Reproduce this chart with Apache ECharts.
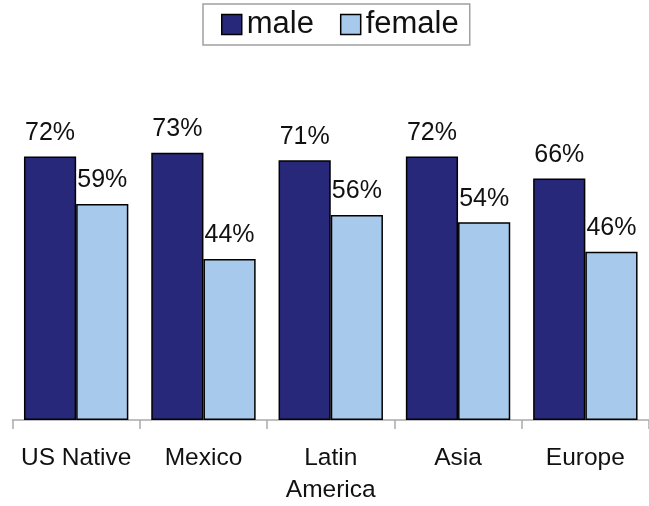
<!DOCTYPE html>
<html>
<head>
<meta charset="utf-8">
<style>
  html, body { margin: 0; padding: 0; background: #fff; }
  #chart { width: 649px; height: 506px; }
</style>
<script src="https://cdn.jsdelivr.net/npm/echarts@6/dist/echarts.min.js"></script>
</head>
<body>
<div id="chart"></div>
<script>
// Share of each group, by origin
const categories = ['US Native', 'Mexico', 'Latin\nAmerica', 'Asia', 'Europe'];
const maleValues = [72, 73, 71, 72, 66];
const femaleValues = [59, 44, 56, 54, 46];
const seriesNames = ['male', 'female'];

const FONT = '"Liberation Sans", Arial, sans-serif';
const DARK = '#28287a';
const LIGHT = '#a6c9ec';

const chart = echarts.init(document.getElementById('chart'), null, { renderer: 'canvas' });

function barSeries(name, values, color) {
  return {
    name: name,
    type: 'bar',
    data: values,
    barGap: '0%',
    barCategoryGap: '18%',
    itemStyle: { color: color, borderColor: '#000', borderWidth: 1.5 },
    label: {
      show: true,
      position: 'top',
      distance: 11,
      formatter: '{c}%',
      fontFamily: FONT,
      fontSize: 25,
      color: '#111'
    }
  };
}

chart.setOption({
  animation: false,
  backgroundColor: '#fff',
  legend: {
    data: seriesNames,
    top: 4,
    left: 203,
    padding: [5, 11, 5, 18],
    itemWidth: 20,
    itemHeight: 20,
    itemGap: 26,
    borderColor: '#a0a0a0',
    borderWidth: 1.5,
    icon: 'rect',
    itemStyle: { borderColor: '#000', borderWidth: 1.5 },
    textStyle: { fontFamily: FONT, fontSize: 31, color: '#111' }
  },
  grid: { left: 12.5, right: 0, top: 54, bottom: 83 },
  xAxis: {
    type: 'category',
    data: categories,
    boundaryGap: true,
    axisLine: { lineStyle: { color: '#aaa', width: 1.5 } },
    axisTick: { show: true, length: 9, lineStyle: { color: '#aaa', width: 1.5 } },
    axisLabel: {
      interval: 0,
      margin: 22,
      fontFamily: FONT,
      fontSize: 24.5,
      lineHeight: 32,
      color: '#111'
    }
  },
  yAxis: {
    type: 'value',
    min: 0,
    max: 100,
    show: false,
    splitLine: { show: false }
  },
  series: [
    barSeries(seriesNames[0], maleValues, DARK),
    barSeries(seriesNames[1], femaleValues, LIGHT)
  ]
});
</script>
</body>
</html>
